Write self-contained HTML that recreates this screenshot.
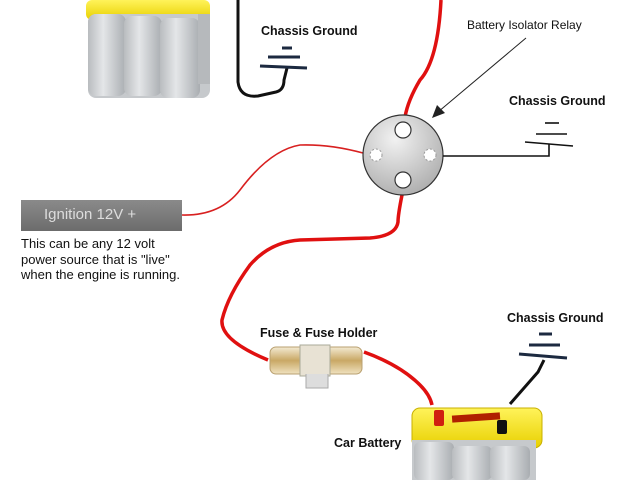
<!DOCTYPE html>
<html><head><style>
body{margin:0;width:640px;height:480px;background:#fff;overflow:hidden;position:relative;font-family:"Liberation Sans",Arial,sans-serif}
.t{position:absolute;font-size:12px;color:#111;white-space:nowrap}
b.t{font-weight:bold;font-size:12.5px}
</style></head><body>
<svg width="640" height="480" style="position:absolute;left:0;top:0">
<defs>
<linearGradient id="cell" x1="0" x2="1"><stop offset="0" stop-color="#b9bcbf"/><stop offset="0.4" stop-color="#e4e6e8"/><stop offset="1" stop-color="#a9adb1"/></linearGradient>
<linearGradient id="yl" x1="0" y1="0" x2="0" y2="1"><stop offset="0" stop-color="#fff35a"/><stop offset="1" stop-color="#e8d000"/></linearGradient>
<radialGradient id="rel" cx="0.4" cy="0.3" r="0.8"><stop offset="0" stop-color="#f2f2f2"/><stop offset="1" stop-color="#a8a8a8"/></radialGradient>
<linearGradient id="ign" x1="0" y1="0" x2="0" y2="1"><stop offset="0" stop-color="#8a8a8a"/><stop offset="1" stop-color="#6c6c6c"/></linearGradient>
<linearGradient id="fz" x1="0" y1="0" x2="0" y2="1"><stop offset="0" stop-color="#f3ead2"/><stop offset="0.5" stop-color="#c9a865"/><stop offset="1" stop-color="#f0e2c0"/></linearGradient>
</defs>
<rect x="86" y="0" width="124" height="20" rx="6" fill="url(#yl)"/>
<rect x="88" y="14" width="122" height="84" rx="8" fill="#c6c9cc"/>
<rect x="88" y="14" width="38" height="82" rx="8" fill="url(#cell)"/>
<rect x="124" y="16" width="38" height="80" rx="8" fill="url(#cell)"/>
<rect x="160" y="18" width="40" height="80" rx="8" fill="url(#cell)"/>
<rect x="198" y="14" width="12" height="70" fill="#b6b9bc"/>
<path d="M238 0 L238 82 Q240 98 258 96 L276 92 Q284 90 284 80 L287 68" stroke="#111" stroke-width="3" fill="none"/>
<g stroke="#1c2a40" stroke-width="3"><line x1="282" y1="48" x2="292" y2="48"/><line x1="268" y1="57" x2="300" y2="57"/><line x1="260" y1="66" x2="307" y2="68"/></g>
<path d="M441 0 Q438 60 420 80 Q408 100 405 117" stroke="#e01010" stroke-width="3.5" fill="none"/>
<path d="M182 215 Q220 216 240 190 Q270 150 300 145 Q330 144 363 153" stroke="#d82020" stroke-width="1.6" fill="none"/>
<path d="M402 195 Q398 215 398 222 Q396 236 370 238 L300 240 Q270 242 250 265 Q228 295 222 320 Q220 340 268 360" stroke="#e01010" stroke-width="3.5" fill="none"/>
<path d="M364 352 Q400 365 420 385 Q430 395 432 405" stroke="#e01010" stroke-width="3.5" fill="none"/>
<circle cx="403" cy="155" r="40" fill="url(#rel)" stroke="#333" stroke-width="1.2"/>
<circle cx="403" cy="130" r="8" fill="#fff" stroke="#333" stroke-width="1.2"/>
<circle cx="403" cy="180" r="8" fill="#fff" stroke="#333" stroke-width="1.2"/>
<circle cx="376" cy="155" r="6" fill="#fff" stroke="#999" stroke-dasharray="2 2"/>
<circle cx="430" cy="155" r="6" fill="#fff" stroke="#999" stroke-dasharray="2 2"/>
<path d="M443 156 L549 156 L549 144" stroke="#111" stroke-width="1.6" fill="none"/>
<g stroke="#111" stroke-width="1.6"><line x1="545" y1="123" x2="559" y2="123"/><line x1="536" y1="134" x2="567" y2="134"/><line x1="525" y1="142" x2="573" y2="146"/></g>
<line x1="526" y1="38" x2="438" y2="112" stroke="#222" stroke-width="1"/>
<polygon points="432,118 437,105 445,113" fill="#222"/>
<rect x="21" y="200" width="161" height="31" fill="url(#ign)"/>
<rect x="270" y="347" width="92" height="27" rx="6" fill="url(#fz)" stroke="#b9a070"/>
<rect x="300" y="345" width="30" height="31" fill="#e8e2d4" stroke="#aa9"/>
<path d="M306 374 L306 388 L328 388 L328 374" fill="#ddd" stroke="#aaa"/>
<path d="M510 404 L538 372 L544 360" stroke="#111" stroke-width="3" fill="none"/>
<g stroke="#1c2a40" stroke-width="3"><line x1="539" y1="334" x2="552" y2="334"/><line x1="529" y1="345" x2="560" y2="345"/><line x1="519" y1="354" x2="567" y2="358"/></g>
<rect x="412" y="408" width="130" height="40" rx="8" fill="url(#yl)" stroke="#c8b000"/>
<rect x="412" y="440" width="124" height="40" fill="#c6c9cc"/>
<rect x="414" y="442" width="40" height="38" rx="6" fill="url(#cell)"/>
<rect x="452" y="446" width="40" height="34" rx="6" fill="url(#cell)"/>
<rect x="490" y="446" width="40" height="34" rx="6" fill="url(#cell)"/>
<rect x="434" y="410" width="10" height="16" rx="2" fill="#d02010"/>
<rect x="497" y="420" width="10" height="14" rx="2" fill="#111"/>
<rect x="452" y="414" width="48" height="7" fill="#b02000" transform="rotate(-4 476 417)"/>
</svg>
<b class="t" style="left:261px;top:24px">Chassis Ground</b>
<span class="t" style="left:467px;top:18px">Battery Isolator Relay</span>
<b class="t" style="left:509px;top:94px">Chassis Ground</b>
<span class="t" style="left:44px;top:206px;font-size:15px;color:#ddd">Ignition 12V +</span>
<span class="t" style="left:21px;top:236px;line-height:15.5px;font-size:13px">This can be any 12 volt<br>power source that is "live"<br>when the engine is running.</span>
<b class="t" style="left:260px;top:326px">Fuse &amp; Fuse Holder</b>
<b class="t" style="left:507px;top:311px">Chassis Ground</b>
<b class="t" style="left:334px;top:436px">Car Battery</b>
</body></html>
